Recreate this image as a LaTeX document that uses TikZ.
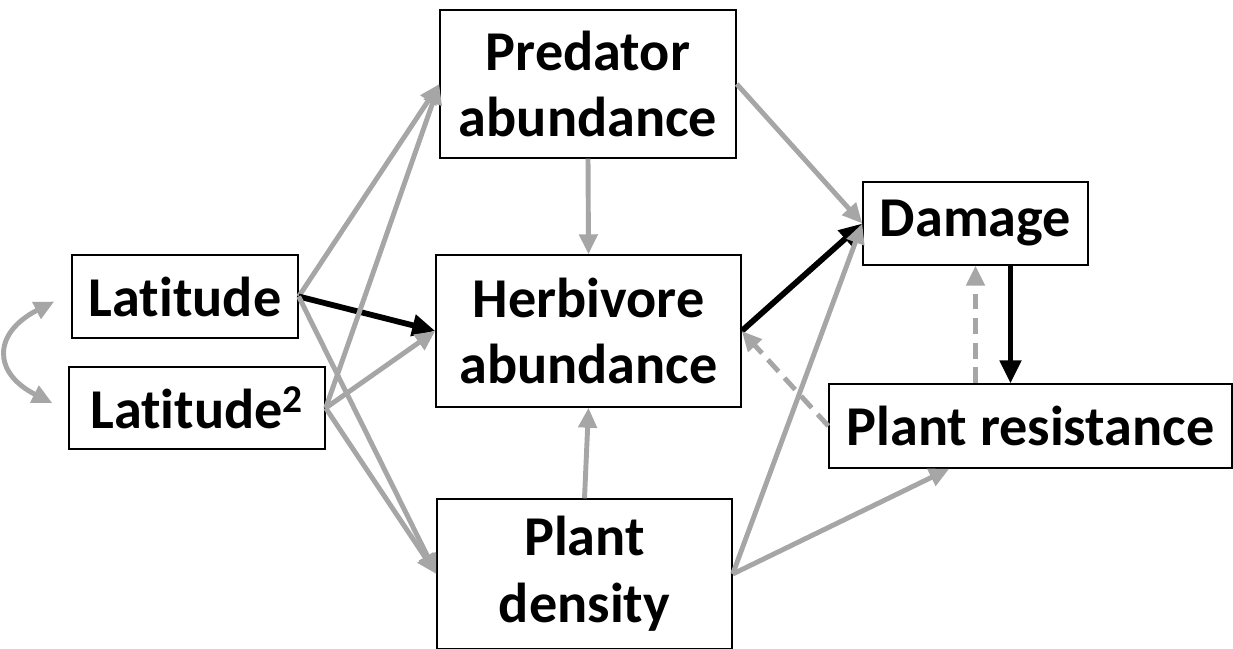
\documentclass[tikz,border=0pt]{standalone}
\usepackage{fontspec}
\setmainfont{Carlito}[Ligatures=NoCommon]
\usetikzlibrary{arrows.meta}
\definecolor{lightgrey}{RGB}{166,166,166}
\begin{document}
\begin{tikzpicture}[
  box/.style={draw, line width=0.8pt, align=center, inner sep=0pt,
    font=\fontsize{32}{38}\selectfont\bfseries},
  grey/.style={draw=lightgrey, line width=2.8pt, -{Triangle[length=0.40cm, width=0.36cm]}},
  blk/.style={draw=black, line width=3.3pt, -{Triangle[length=0.46cm, width=0.42cm]}},
  greydash/.style={grey, dash pattern=on 9pt off 5pt}
]
\useasboundingbox (0,0) rectangle (24.66,12.96);
\node[box, minimum width=4.52cm, minimum height=1.66cm] (lat) at (3.70,7.03) {Latitude};
\node[box, minimum width=5.12cm, minimum height=1.64cm] (latsq) at (3.94,4.80) {Latitude\textsuperscript{2}};
\node[box, minimum width=5.92cm, minimum height=2.96cm] (pred) at (11.76,11.28) {Predator\\abundance};
\node[box, minimum width=6.10cm, minimum height=3.04cm] (herb) at (11.77,6.34) {Herbivore\\abundance};
\node[box, minimum width=5.90cm, minimum height=3.00cm] (plant) at (11.69,1.48) {Plant\\density};
\node[box, minimum width=4.50cm, minimum height=1.66cm] (dam) at (19.51,8.49) {Damage};
\node[box, minimum width=8.06cm, minimum height=1.68cm] (res) at (20.61,4.44) {Plant resistance};
\coordinate (resin) at ([xshift=2.42cm]res.south west);
\coordinate (damout) at ([xshift=0.70cm]dam.south);
\coordinate (loopa) at ([xshift=-0.34cm,yshift=-0.1cm]lat.west);
\coordinate (loopb) at ([xshift=-0.32cm,yshift=0.1cm]latsq.west);
\draw[grey, {Triangle[length=0.40cm, width=0.36cm]}-{Triangle[length=0.40cm, width=0.36cm]}]
  (loopa) .. controls (-0.15,6.3) and (-0.15,5.5) .. (loopb);
\draw[grey] (lat.east) -- (pred.west);
\draw[blk] (lat.east) -- (herb.west);
\draw[grey] (lat.east) -- (plant.west);
\draw[grey] (latsq.east) -- (pred.west);
\draw[grey] (latsq.east) -- (herb.west);
\draw[grey] (latsq.east) -- (plant.west);
\draw[grey] (pred.south) -- (herb.north);
\draw[grey] (plant.north) -- (herb.south);
\draw[grey] (pred.east) -- (dam.west);
\draw[blk] (herb.east) -- (dam.west);
\draw[grey] (plant.east) -- (dam.west);
\draw[grey] (plant.east) -- (resin);
\draw[greydash] (res.west) -- (herb.east);
\draw[greydash] (res.north -| dam.south) -- (dam.south);
\draw[blk, line width=2.8pt] (damout) -- (res.north -| damout);
\end{tikzpicture}
\end{document}
